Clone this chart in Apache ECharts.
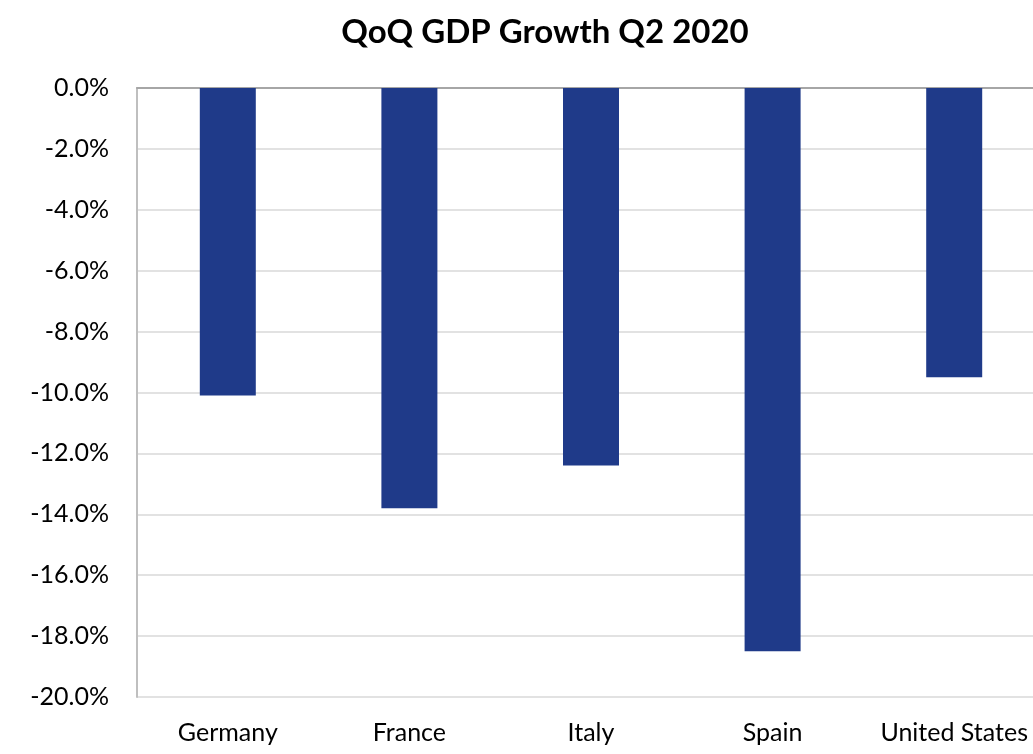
<!DOCTYPE html>
<html>
<head>
<meta charset="utf-8">
<script src="https://cdn.jsdelivr.net/npm/echarts@6/dist/echarts.min.js"></script>
<style>
  html, body { margin: 0; padding: 0; background: #ffffff; overflow: hidden; }
  /* the plot runs slightly past the right edge of the window */
  #chart { width: 1045px; height: 754px; }
</style>
</head>
<body>
<div id="chart"></div>
<script>
// Quarter-on-quarter GDP change, Q2 2020 (percent)
const countries = ['Germany', 'France', 'Italy', 'Spain', 'United States'];
const growth = [-10.1, -13.8, -12.4, -18.5, -9.5];
const titleText = 'QoQ GDP Growth Q2 2020';

const FONT = 'Lato, "Open Sans", sans-serif';

const chart = echarts.init(document.getElementById('chart'));
chart.setOption({
  backgroundColor: '#ffffff',
  animation: false,
  title: {
    text: titleText,
    left: 540,
    textAlign: 'center',
    top: 11,
    textStyle: { fontFamily: FONT, fontWeight: 'bold', fontSize: 33, color: '#000000' }
  },
  grid: { left: 137, right: 0, top: 88, bottom: 57, containLabel: false },
  xAxis: [
    {
      type: 'category',
      data: countries,
      position: 'bottom',
      axisLine: { show: false, onZero: false },
      axisTick: { show: false },
      axisLabel: { interval: 0, hideOverlap: false, margin: 23, fontFamily: FONT, fontSize: 25, color: '#000000' }
    },
    {
      // zero baseline along the top edge
      type: 'category',
      data: countries,
      position: 'top',
      axisLine: { show: true, lineStyle: { color: '#a6a6a6', width: 2 } },
      axisTick: { show: false },
      axisLabel: { show: false }
    }
  ],
  yAxis: {
    type: 'value',
    min: -20,
    max: 0,
    interval: 2,
    axisLine: { show: true, lineStyle: { color: '#bfbfbf', width: 2 } },
    axisTick: { show: false },
    splitLine: { lineStyle: { color: '#d9d9d9', width: 1.5 } },
    axisLabel: {
      margin: 28,
      fontFamily: FONT,
      fontSize: 25,
      color: '#000000',
      formatter: v => v.toFixed(1) + '%'
    }
  },
  series: [{
    type: 'bar',
    data: growth,
    barWidth: 56,
    itemStyle: { color: '#1f3a89' }
  }]
});
</script>
</body>
</html>
